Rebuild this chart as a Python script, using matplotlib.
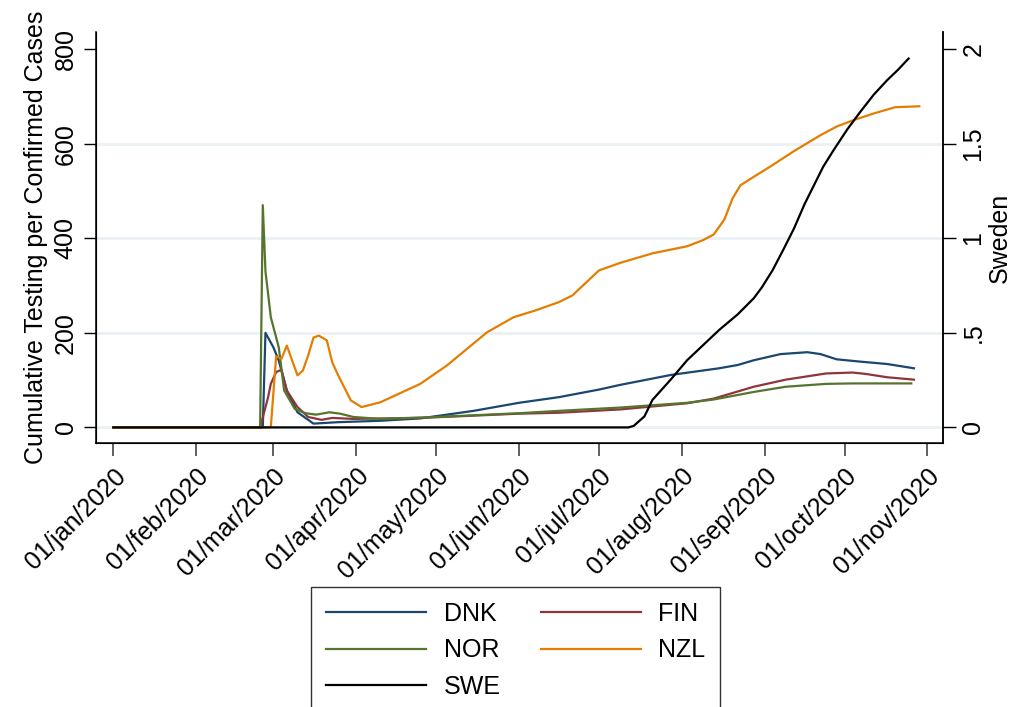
import matplotlib
matplotlib.use("Agg")
import matplotlib.pyplot as plt
import pandas as pd

plt.rcParams['font.family'] = ['Liberation Sans', 'DejaVu Sans']

# ---------------- data ----------------
dnk_dates = ["2020-01-01", "2020-02-26", "2020-02-27", "2020-03-01", "2020-03-03", "2020-03-06",
             "2020-03-10", "2020-03-16", "2020-03-25", "2020-04-10", "2020-04-25", "2020-05-15",
             "2020-06-01", "2020-06-16", "2020-07-01", "2020-07-09", "2020-07-28", "2020-08-15",
             "2020-08-22", "2020-08-28", "2020-09-07", "2020-09-17", "2020-09-22", "2020-09-28",
             "2020-10-07", "2020-10-17", "2020-10-27"]
dnk_vals = [0, 0, 200, 169, 141, 78, 32, 8, 11, 14, 19, 35, 52, 64, 80, 90, 111, 125,
            132, 142, 155, 159, 155, 144, 139, 134, 125]

fin_dates = ["2020-01-01", "2020-02-25", "2020-02-28", "2020-02-29", "2020-03-02", "2020-03-04",
             "2020-03-06", "2020-03-10", "2020-03-14", "2020-03-19", "2020-03-23", "2020-03-31",
             "2020-04-25", "2020-06-01", "2020-06-16", "2020-07-09", "2020-08-03", "2020-08-13",
             "2020-08-28", "2020-09-09", "2020-09-24", "2020-10-04", "2020-10-09", "2020-10-17",
             "2020-10-27"]
fin_vals = [0, 0, 64, 92, 117, 122, 78, 43, 22, 16, 20, 18, 20, 29, 31, 38, 51, 61, 86,
            101, 114, 116, 113, 106, 101]

nor_dates = ["2020-01-01", "2020-02-25", "2020-02-26", "2020-02-27", "2020-02-29", "2020-03-03",
             "2020-03-05", "2020-03-09", "2020-03-13", "2020-03-17", "2020-03-22", "2020-03-26",
             "2020-03-31", "2020-04-10", "2020-05-01", "2020-06-01", "2020-06-16", "2020-07-09",
             "2020-08-03", "2020-08-13", "2020-08-28", "2020-09-09", "2020-09-24", "2020-10-04",
             "2020-10-26"]
nor_vals = [0, 0, 470, 330, 233, 169, 78, 39, 30, 27, 32, 29, 22, 18, 22, 30, 35, 42, 52,
            59, 75, 86, 92, 93, 93]

nzl_dates = ["2020-01-01", "2020-02-29", "2020-03-02", "2020-03-04", "2020-03-06", "2020-03-10",
             "2020-03-12", "2020-03-14", "2020-03-16", "2020-03-18", "2020-03-21", "2020-03-23",
             "2020-03-25", "2020-03-30", "2020-04-03", "2020-04-10", "2020-04-25", "2020-05-05",
             "2020-05-20", "2020-05-30", "2020-06-07", "2020-06-16", "2020-06-21", "2020-07-01",
             "2020-07-09", "2020-07-21", "2020-08-03", "2020-08-09", "2020-08-13", "2020-08-17",
             "2020-08-20", "2020-08-23", "2020-08-28", "2020-09-03", "2020-09-12", "2020-09-22",
             "2020-09-28", "2020-10-04", "2020-10-12", "2020-10-20", "2020-10-29"]
nzl_vals = [0, 0, 150, 145, 173, 110, 120, 152, 190, 194, 184, 138, 113, 57, 43, 53, 92, 131,
            201, 233, 247, 265, 279, 332, 348, 368, 383, 396, 408, 440, 484, 512, 530, 551,
            584, 618, 636, 649, 664, 677, 679]

# Sweden is plotted on the right-hand axis
swe_dates = ["2020-01-01", "2020-07-12", "2020-07-14", "2020-07-18", "2020-07-21", "2020-07-28",
             "2020-08-03", "2020-08-09", "2020-08-15", "2020-08-22", "2020-08-28", "2020-08-31",
             "2020-09-04", "2020-09-08", "2020-09-12", "2020-09-16", "2020-09-19", "2020-09-23",
             "2020-09-27", "2020-10-02", "2020-10-07", "2020-10-12", "2020-10-17", "2020-10-21",
             "2020-10-25"]
swe_vals = [0, 0, 0.008, 0.058, 0.145, 0.255, 0.355, 0.435, 0.515, 0.598, 0.683, 0.74,
            0.83, 0.938, 1.05, 1.18, 1.265, 1.378, 1.468, 1.575, 1.67, 1.76, 1.836, 1.89,
            1.95]

left_ticks = [0, 200, 400, 600, 800]
right_ticks = [0, 0.5, 1, 1.5, 2]
right_labels = ["0", ".5", "1", "1.5", "2"]
x_ticks = ["2020-01-01", "2020-02-01", "2020-03-01", "2020-04-01", "2020-05-01", "2020-06-01",
           "2020-07-01", "2020-08-01", "2020-09-01", "2020-10-01", "2020-11-01"]
x_labels = ["01/jan/2020", "01/feb/2020", "01/mar/2020", "01/apr/2020", "01/may/2020",
            "01/jun/2020", "01/jul/2020", "01/aug/2020", "01/sep/2020", "01/oct/2020",
            "01/nov/2020"]

# ---------------- styling ----------------
C_DNK = "#1a476f"
C_FIN = "#90353b"
C_NOR = "#55752f"
C_NZL = "#e37e00"
C_SWE = "#000000"
LW = 1.6
FS = 18

fig = plt.figure(figsize=(10.13, 7.07), dpi=100)
ax = fig.add_axes([0.0945, 0.3734, 0.9312 - 0.0945, 0.9547 - 0.3734])

to_dt = pd.to_datetime
l_dnk, = ax.plot(to_dt(dnk_dates), dnk_vals, color=C_DNK, lw=LW, label="DNK")
l_fin, = ax.plot(to_dt(fin_dates), fin_vals, color=C_FIN, lw=LW, label="FIN")
l_nor, = ax.plot(to_dt(nor_dates), nor_vals, color=C_NOR, lw=LW, label="NOR")
l_nzl, = ax.plot(to_dt(nzl_dates), nzl_vals, color=C_NZL, lw=LW, label="NZL")

ylo, yhi = -33, 836
ax.set_ylim(ylo, yhi)
x0 = pd.Timestamp("2020-01-01")
ax.set_xlim(x0 - pd.Timedelta(days=6.6), x0 + pd.Timedelta(days=311))

for v in [0, 200, 400, 600]:
    ax.axhline(v, color="#eaf0f3", lw=2, zorder=0)

ax.set_yticks(left_ticks)
ax.set_yticklabels([str(t) for t in left_ticks], rotation=90, va="center", fontsize=FS)
ax.set_xticks(to_dt(x_ticks))
ax.set_xticklabels(x_labels, rotation=45, ha="right", va="top",
                   rotation_mode="anchor", fontsize=FS)
ax.tick_params(axis="y", length=9, width=1, direction="out", pad=4)
ax.tick_params(axis="x", length=9, width=1.2, color="#444444", direction="out", pad=6)
ax.set_ylabel("Cumulative Testing per Confirmed Cases", fontsize=FS, labelpad=4)

ax.spines["top"].set_visible(False)
for s in ["left", "bottom", "right"]:
    ax.spines[s].set_linewidth(1.1)

ax2 = ax.twinx()
l_swe, = ax2.plot(to_dt(swe_dates), swe_vals, color=C_SWE, lw=LW, label="SWE")
ax2.set_ylim(ylo / 400, yhi / 400)
ax2.set_yticks(right_ticks)
ax2.set_yticklabels(right_labels, rotation=90, va="center", fontsize=FS)
ax2.tick_params(axis="y", length=9, width=1, direction="out", pad=4)
ax2.set_ylabel("Sweden", fontsize=FS, labelpad=2)
ax2.spines["top"].set_visible(False)
ax2.spines["right"].set_linewidth(1.1)

handles = [l_dnk, l_nor, l_swe, l_fin, l_nzl]
leg = fig.legend(handles, [h.get_label() for h in handles], ncol=2,
                 loc="upper center", bbox_to_anchor=(0.509, 0.170), borderaxespad=0,
                 fontsize=FS, frameon=True, fancybox=False, edgecolor="black",
                 handlelength=4.0, handletextpad=0.7, columnspacing=1.6,
                 labelspacing=0.5, borderpad=0.6)
leg.get_frame().set_linewidth(1.0)

fig.savefig("out.png", dpi=100)
